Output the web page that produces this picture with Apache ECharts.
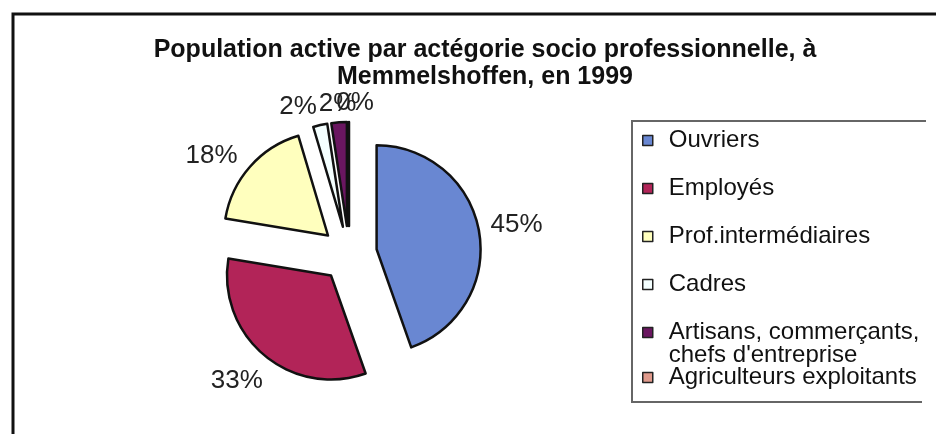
<!DOCTYPE html>
<html>
<head>
<meta charset="utf-8">
<script src="https://cdn.jsdelivr.net/npm/echarts@6/dist/echarts.min.js"></script>
<style>
  html, body { margin: 0; padding: 0; background: #fff; }
  #chart { width: 936px; height: 434px; }
</style>
</head>
<body>
<div id="chart"></div>
<script>
const categories = ['Ouvriers', 'Employés', 'Prof.intermédiaires', 'Cadres',
  'Artisans, commerçants, chefs d\'entreprise', 'Agriculteurs exploitants']
const shares = [44.6, 33.0, 17.8, 2.2, 2.4, 0]
const colors = ['#6987d2', '#b22458', '#ffffbe', '#f4ffff', '#6a1660', '#e09a8c']
// small nudges so labels sit where Excel left them
const labelNudge = [[0, 0], [-3, -3], [-10, 14], [-18, 0], [0, 0], [6, 0]]

const font = 'Liberation Sans, Arial, sans-serif'

const chart = echarts.init(document.getElementById('chart'), null, { renderer: 'canvas' })

// legend split in three so the rows land where Excel put them
const legendBase = {
  orient: 'vertical',
  left: 642,
  padding: 0,
  icon: 'rect',
  itemWidth: 10,
  itemHeight: 10,
  selectedMode: false,
  itemStyle: { borderColor: '#222', borderWidth: 1.5 },
  textStyle: { fontFamily: font, fontSize: 24, lineHeight: 23, color: '#111', padding: [0, 0, 0, 11] }
}

chart.setOption({
  backgroundColor: '#fff',
  animation: false,
  title: {
    text: 'Population active par actégorie socio professionnelle, à\nMemmelshoffen, en 1999',
    left: 480,
    textAlign: 'center',
    top: 32,
    textStyle: { fontFamily: font, fontSize: 25, fontWeight: 'bold', lineHeight: 27, color: '#111' }
  },
  legend: [
    { ...legendBase, top: 128.5, itemGap: 24, data: categories.slice(0, 4) },
    {
      // square kept on the first line of the two-line entry
      ...legendBase, top: 320.5, itemHeight: 33,
      icon: 'path://M0,0h10v10h-10z M10,33h0',
      data: [categories[4]],
      formatter: n => n.replace(', chefs', ',\nchefs')
    },
    { ...legendBase, top: 365.5, data: [categories[5]] }
  ],
  graphic: [
    { type: 'rect', shape: { x: 13, y: 14, width: 1000, height: 1000 },
      style: { fill: null, stroke: '#111', lineWidth: 3 }, silent: true },
    { type: 'polyline', shape: { points: [[926, 121], [632, 121], [632, 402], [922, 402]] },
      style: { fill: null, stroke: '#666', lineWidth: 2 }, silent: true }
  ],
  series: [{
    type: 'pie',
    center: [349, 254],
    radius: 104,
    startAngle: 90,
    clockwise: true,
    selectedMode: 'multiple',
    selectedOffset: 28,
    avoidLabelOverlap: false,
    itemStyle: { borderColor: '#111', borderWidth: 2.5 },
    emphasis: { disabled: true },
    label: {
      position: 'outside',
      distanceToLabelLine: 0,
      fontFamily: font,
      fontSize: 26,
      color: '#222',
      formatter: p => Math.round(p.percent) + '%'
    },
    labelLine: { show: false, length: 38, length2: 0 },
    labelLayout: p => ({ align: 'center', dx: labelNudge[p.dataIndex][0], dy: labelNudge[p.dataIndex][1] }),
    data: categories.map((name, i) => ({
      name,
      value: shares[i],
      selected: true,
      itemStyle: { color: colors[i] },
      labelLine: i >= 3 ? { show: false, length: 19, length2: 0 } : undefined
    }))
  }]
})
</script>
</body>
</html>
